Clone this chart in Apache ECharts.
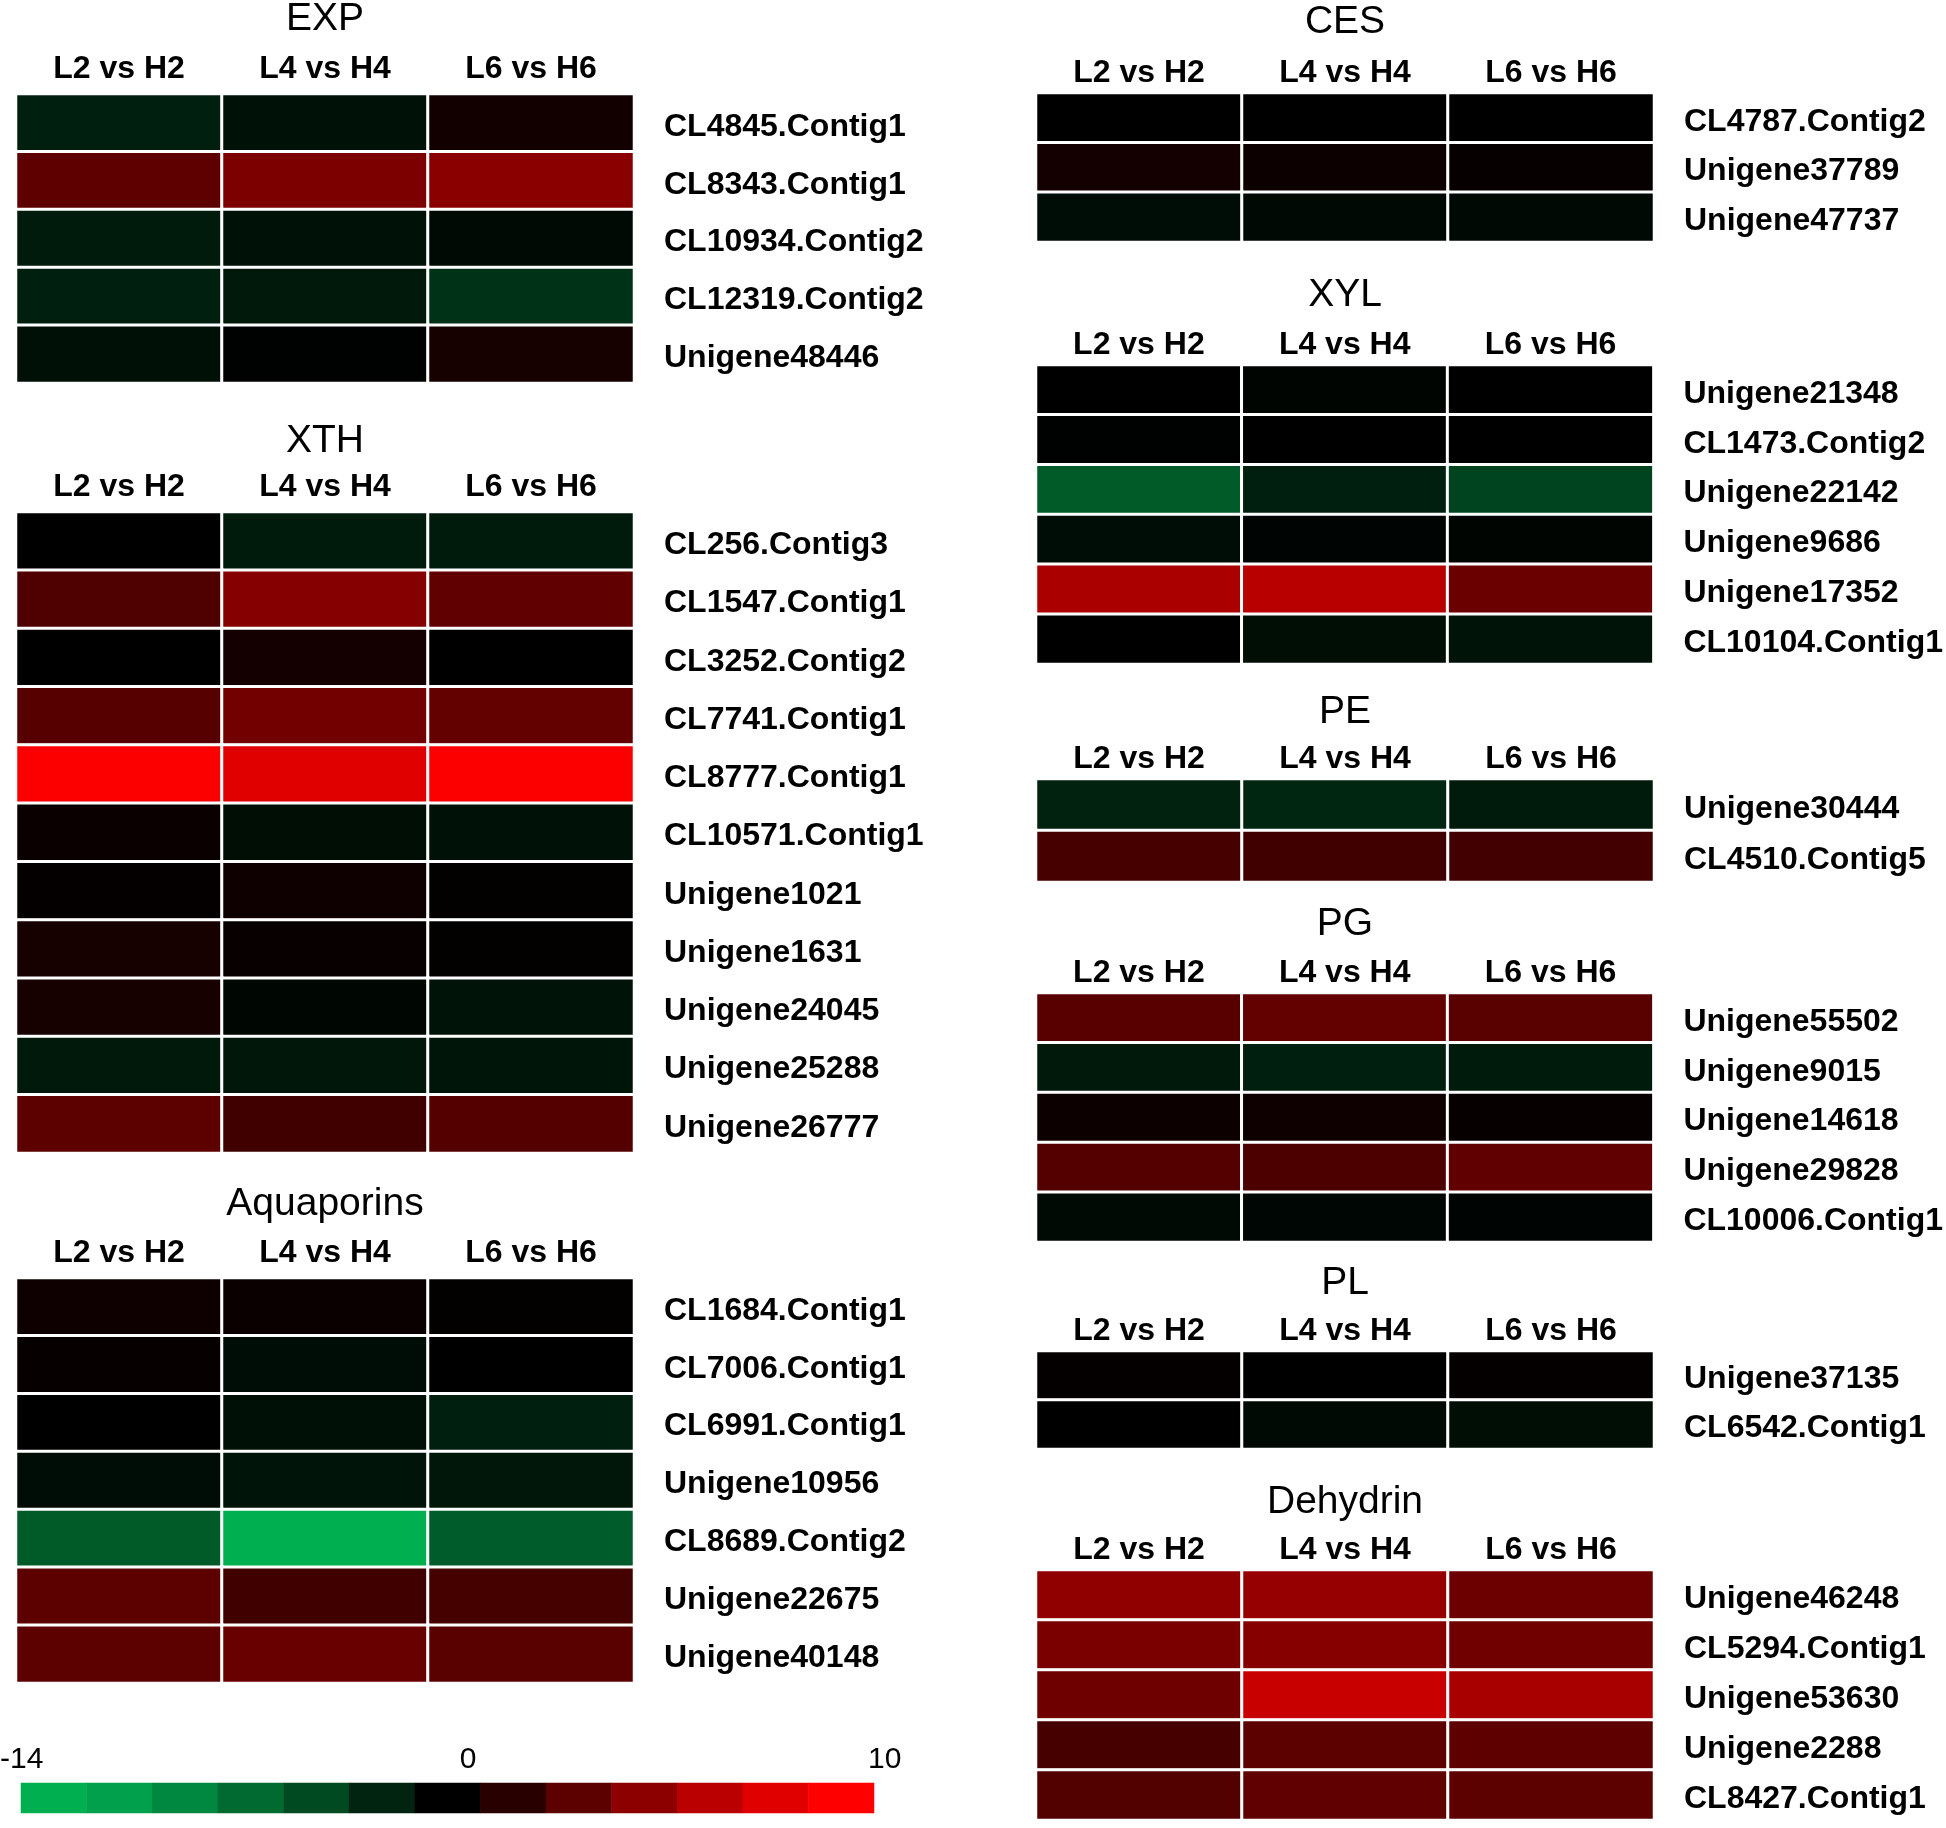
<!DOCTYPE html>
<html>
<head>
<meta charset="utf-8">
<script src="https://cdn.jsdelivr.net/npm/echarts@6/dist/echarts.min.js"></script>
<style>
  html, body { margin: 0; padding: 0; background: #fff; }
  #chart { width: 1946px; height: 1828px; }
</style>
</head>
<body>
<div id="chart"></div>
<script>
// ---------- DATA ----------
const columns = ['L2 vs H2', 'L4 vs H4', 'L6 vs H6'];

const expGenes = ['CL4845.Contig1', 'CL8343.Contig1', 'CL10934.Contig2', 'CL12319.Contig2', 'Unigene48446'];
const expValues = [
  [-2.5, -1.4, 0.7],
  [3.7, 4.9, 5.4],
  [-2.1, -1.4, -0.8],
  [-2.5, -2.0, -4.0],
  [-1.3, -0.2, 0.9]
];

const xthGenes = ['CL256.Contig3', 'CL1547.Contig1', 'CL3252.Contig2', 'CL7741.Contig1', 'CL8777.Contig1',
  'CL10571.Contig1', 'Unigene1021', 'Unigene1631', 'Unigene24045', 'Unigene25288', 'Unigene26777'];
const xthValues = [
  [0.05, -2.1, -2.2],
  [3.1, 5.2, 3.8],
  [0.05, 0.8, 0.05],
  [3.4, 4.5, 3.9],
  [9.9, 8.8, 9.9],
  [0.4, -1.1, -1.4],
  [0.2, 0.6, 0.1],
  [0.9, 0.3, 0.1],
  [0.9, -0.6, -1.5],
  [-2.0, -1.8, -1.7],
  [3.6, 2.5, 3.3]
];

const aquaGenes = ['CL1684.Contig1', 'CL7006.Contig1', 'CL6991.Contig1', 'Unigene10956', 'CL8689.Contig2',
  'Unigene22675', 'Unigene40148'];
const aquaValues = [
  [0.6, 0.4, 0.1],
  [0.25, -1.0, 0.0],
  [0.0, -1.3, -2.5],
  [-1.0, -1.6, -1.8],
  [-7.2, -14.0, -7.3],
  [3.6, 2.5, 2.7],
  [3.6, 4.1, 3.5]
];

const cesGenes = ['CL4787.Contig2', 'Unigene37789', 'Unigene47737'];
const cesValues = [
  [0.02, 0.0, 0.0],
  [0.8, 0.5, 0.25],
  [-1.0, -0.7, -0.7]
];

const xylGenes = ['Unigene21348', 'CL1473.Contig2', 'Unigene22142', 'Unigene9686', 'Unigene17352', 'CL10104.Contig1'];
const xylValues = [
  [0.0, -0.4, 0.0],
  [-0.1, 0.0, 0.0],
  [-7.2, -2.5, -5.4],
  [-1.0, -0.3, -0.4],
  [6.7, 7.2, 4.2],
  [0.05, -1.1, -1.5]
];

const peGenes = ['Unigene30444', 'CL4510.Contig5'];
const peValues = [
  [-2.7, -3.0, -2.2],
  [2.75, 2.5, 2.6]
];

const pgGenes = ['Unigene55502', 'Unigene9015', 'Unigene14618', 'Unigene29828', 'CL10006.Contig1'];
const pgValues = [
  [3.45, 3.9, 3.5],
  [-2.0, -2.5, -2.2],
  [0.5, 0.55, 0.25],
  [3.3, 3.0, 3.75],
  [-0.8, -0.5, -0.3]
];

const plGenes = ['Unigene37135', 'CL6542.Contig1'];
const plValues = [
  [0.2, 0.0, 0.2],
  [0.0, -0.8, -1.1]
];

const dehydrinGenes = ['Unigene46248', 'CL5294.Contig1', 'Unigene53630', 'Unigene2288', 'CL8427.Contig1'];
const dehydrinValues = [
  [5.65, 5.9, 4.25],
  [4.8, 5.3, 4.4],
  [4.3, 7.85, 6.6],
  [2.8, 3.6, 3.7],
  [3.2, 3.75, 3.6]
];

const groupTitles = ['EXP', 'XTH', 'Aquaporins', 'CES', 'XYL', 'PE', 'PG', 'PL', 'Dehydrin'];
const groupGenes = [expGenes, xthGenes, aquaGenes, cesGenes, xylGenes, peGenes, pgGenes, plGenes, dehydrinGenes];
const groupValues = [expValues, xthValues, aquaValues, cesValues, xylValues, peValues, pgValues, plValues, dehydrinValues];

// colour scale legend
const scaleMin = -14;
const scaleMax = 10;
const legendValues = [-14, -12.7, -10.8, -8.4, -5.9, -2.9, 0, 1.6, 3.6, 5.5, 7.3, 8.8, 10];
const legendTickLabels = ['-14', '0', '10'];

// ---------- LAYOUT (positions / sizes only) ----------
const layout = [
  { left: 16,   top: 94,   height: 289, titleY: 19,   headerMargin: 9 },
  { left: 16,   top: 512,  height: 641, titleY: 441,  headerMargin: 9 },
  { left: 16,   top: 1278, height: 405, titleY: 1204, headerMargin: 9 },
  { left: 1036, top: 93,   height: 149, titleY: 22,   headerMargin: 4 },
  { left: 1036, top: 365,  height: 299, titleY: 295,  headerMargin: 4 },
  { left: 1036, top: 779,  height: 103, titleY: 712,  headerMargin: 4 },
  { left: 1036, top: 993,  height: 249, titleY: 924,  headerMargin: 4 },
  { left: 1036, top: 1351, height: 98,  titleY: 1283, headerMargin: 4 },
  { left: 1036, top: 1570, height: 250, titleY: 1502, headerMargin: 4 }
];
const gridWidth = 618;
const FONT = "'Liberation Sans', Arial, Helvetica, sans-serif";

// ---------- BUILD OPTION ----------
const grids = [], xAxes = [], yAxes = [], series = [], titles = [];

groupTitles.forEach((name, g) => {
  const L = layout[g];
  grids.push({ left: L.left, top: L.top, width: gridWidth, height: L.height, containLabel: false });
  xAxes.push({
    type: 'category', gridIndex: g, data: columns, position: 'top',
    axisLine: { show: false }, axisTick: { show: false }, splitLine: { show: false },
    axisLabel: { margin: L.headerMargin, fontSize: 32, fontWeight: 'bold', color: '#000', fontFamily: FONT }
  });
  yAxes.push({
    type: 'category', gridIndex: g, data: groupGenes[g], inverse: true, position: 'right',
    axisLine: { show: false }, axisTick: { show: false }, splitLine: { show: false },
    axisLabel: {
      margin: 30, align: 'left',
      formatter: v => '{g|' + v + '}',
      rich: { g: { fontSize: 32, fontWeight: 'bold', color: '#000', fontFamily: FONT, padding: [8, 0, 0, 0] } }
    }
  });
  const data = [];
  groupValues[g].forEach((row, i) => row.forEach((v, j) => data.push([j, i, v])));
  series.push({
    type: 'heatmap', name: name, xAxisIndex: g, yAxisIndex: g, data: data,
    itemStyle: { borderColor: '#ffffff', borderWidth: 3 },
    emphasis: { disabled: true }, label: { show: false }
  });
  titles.push({
    text: name, left: L.left + gridWidth / 2, top: L.titleY, padding: 0,
    textAlign: 'center', textVerticalAlign: 'middle',
    textStyle: { fontSize: 39, fontWeight: 'normal', color: '#000', fontFamily: FONT }
  });
});

// colour-scale bar as a one-row heatmap
const lg = groupTitles.length;
grids.push({ left: 21, top: 1783, width: 853, height: 30 });
xAxes.push({ type: 'category', gridIndex: lg, data: legendValues.map((v, i) => i), show: false });
yAxes.push({ type: 'category', gridIndex: lg, data: ['scale'], show: false });
series.push({
  type: 'heatmap', xAxisIndex: lg, yAxisIndex: lg,
  data: legendValues.map((v, i) => [i, 0, v]),
  itemStyle: { borderWidth: 0 }, emphasis: { disabled: true }
});

const tickPos = [
  { x: 0, align: 'left' },
  { x: 468, align: 'center' },
  { x: 868, align: 'left' }
];

const option = {
  animation: false,
  backgroundColor: '#ffffff',
  title: titles,
  grid: grids,
  xAxis: xAxes,
  yAxis: yAxes,
  visualMap: {
    type: 'continuous', show: false, min: scaleMin, max: scaleMax, dimension: 2,
    inRange: {
      color: ['#00b050', '#00974a', '#007e39', '#00652e', '#004b22', '#003217', '#00190b',
              '#000000', '#330000', '#660000', '#990000', '#cc0000', '#ff0000']
    }
  },
  graphic: legendTickLabels.map((t, i) => ({
    type: 'text', x: tickPos[i].x, y: 1760,
    style: { text: t, fontSize: 30, fill: '#000', fontFamily: FONT, align: tickPos[i].align, verticalAlign: 'middle' }
  })),
  series: series
};

const chart = echarts.init(document.getElementById('chart'), null, { renderer: 'canvas' });
chart.setOption(option);
</script>
</body>
</html>
